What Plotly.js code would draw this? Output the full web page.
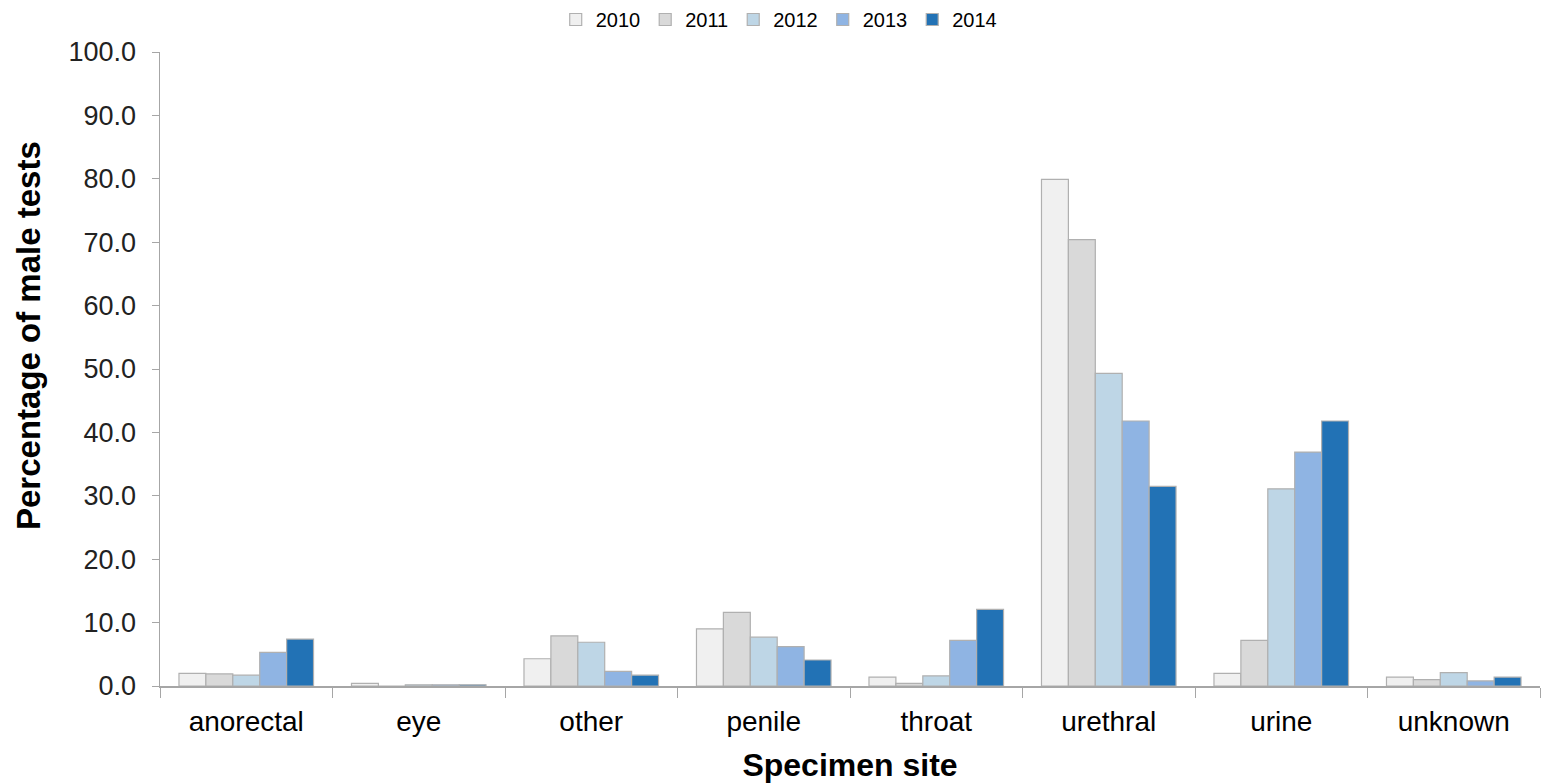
<!DOCTYPE html>
<html>
<head>
<meta charset="utf-8">
<script src="https://cdn.plot.ly/plotly-3.0.1.min.js"></script>
<style>html,body{margin:0;padding:0;background:#fff;}#chart{width:1543px;height:783px;}</style>
</head>
<body>
<div id="chart"></div>
<script>
const categories = ["anorectal", "eye", "other", "penile", "throat", "urethral", "urine", "unknown"];
const years = ["2010", "2011", "2012", "2013", "2014"];
const values2010 = [2.0, 0.4, 4.3, 9.0, 1.4, 79.9, 2.0, 1.4];
const values2011 = [1.9, 0.0, 7.9, 11.6, 0.4, 70.4, 7.2, 1.0];
const values2012 = [1.7, 0.2, 6.9, 7.7, 1.6, 49.3, 31.1, 2.1];
const values2013 = [5.3, 0.2, 2.3, 6.2, 7.2, 41.8, 36.9, 0.8];
const values2014 = [7.4, 0.2, 1.7, 4.1, 12.1, 31.5, 41.8, 1.4];
const colors = ["#f0f0f0", "#d9d9d9", "#bed6e6", "#8fb4e3", "#2272b5"];

const series = [values2010, values2011, values2012, values2013, values2014];
const traces = series.map((vals, i) => ({
  type: "bar",
  name: years[i],
  x: categories,
  y: vals,
  marker: {color: colors[i], line: {color: "#b0b0b0", width: 1.2}},
  hoverinfo: "x+y+name"
}));

const layout = {
  width: 1543, height: 783,
  margin: {l: 160, r: 3, t: 52, b: 97},
  paper_bgcolor: "#fff", plot_bgcolor: "#fff",
  font: {family: "Arial, Liberation Sans, sans-serif", color: "#000"},
  barmode: "group",
  bargap: 0.22,
  bargroupgap: 0,
  showlegend: true,
  legend: {
    orientation: "h", xref: "container", yref: "container",
    x: 0.505, xanchor: "center", y: 1.0, yanchor: "top",
    font: {size: 20, color: "#000"}, traceorder: "normal",
    itemwidth: 30, tracegroupgap: 0
  },
  xaxis: {
    type: "category",
    showline: true, linecolor: "#a6a6a6", linewidth: 1.5,
    ticks: "outside", tickson: "boundaries", ticklen: 10, tickcolor: "#a6a6a6",
    tickfont: {size: 28, color: "#000"},
    ticklabelstandoff: 10,
    showgrid: false, zeroline: false,
    title: {text: "<b>Specimen site</b>", font: {size: 32, color: "#000"}, standoff: 18}
  },
  yaxis: {
    range: [0, 100], dtick: 10, tickformat: ".1f",
    showline: true, linecolor: "#a6a6a6", linewidth: 1.5,
    ticks: "outside", ticklen: 7, tickcolor: "#a6a6a6",
    tickfont: {size: 27, color: "#222"},
    ticklabelstandoff: 10,
    showgrid: false, zeroline: false
  },
  annotations: [{
    text: "<b>Percentage of male tests</b>",
    textangle: -90,
    xref: "paper", yref: "paper",
    x: 0, xshift: -132, xanchor: "center",
    y: 0.552, yanchor: "middle",
    showarrow: false,
    font: {size: 33, color: "#000"}
  }]
};

Plotly.newPlot("chart", traces, layout, {displayModeBar: false, staticPlot: true});
</script>
</body>
</html>
